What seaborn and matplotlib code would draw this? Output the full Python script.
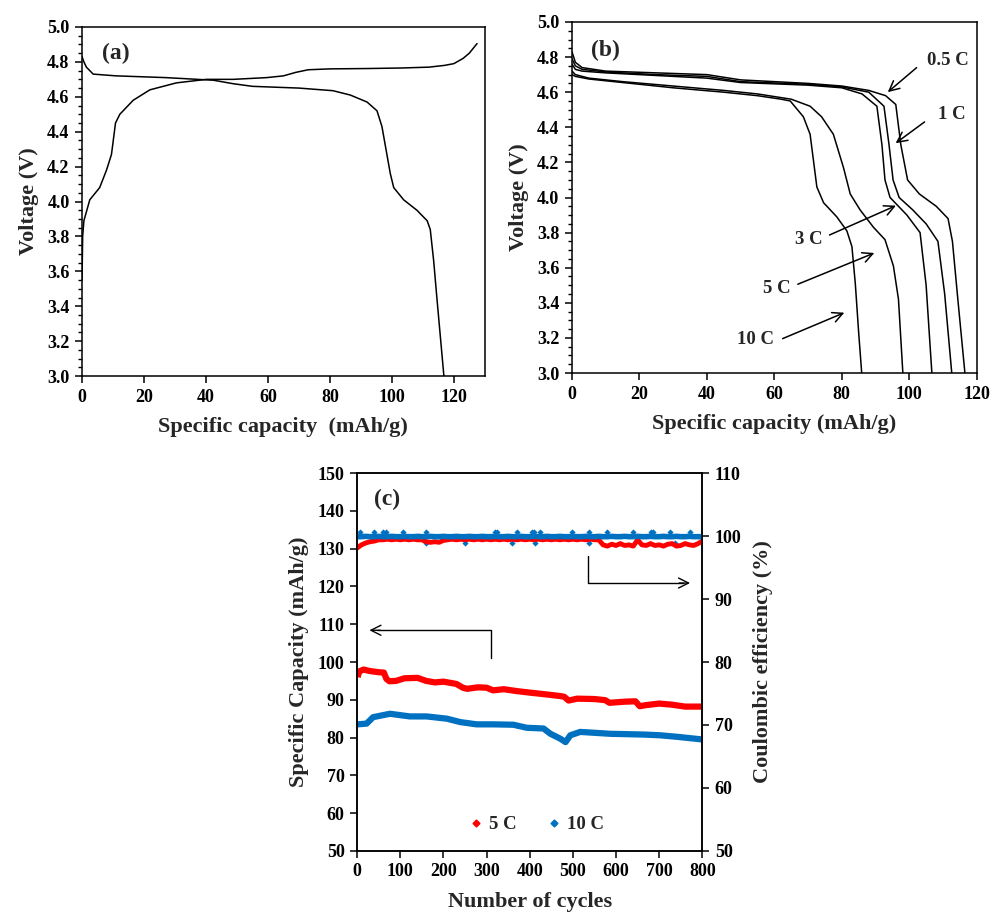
import matplotlib
matplotlib.use("Agg")
import matplotlib.pyplot as plt
from matplotlib.ticker import MultipleLocator
import seaborn as sns

# ---- (a) charge / discharge curve ----
charge_cap = [0, 0.2, 0.6, 2.5, 5.7, 7.9, 9.5, 10.3, 10.8, 12.2, 16.5, 21.9, 30.5, 40.2, 48.8,
              59.6, 65, 69, 73, 80, 92, 103, 112, 117, 120, 123, 125, 127.5]
charge_v = [3.55, 3.8, 3.89, 4.01, 4.08, 4.18, 4.27, 4.38, 4.45, 4.50, 4.58, 4.64, 4.68, 4.70, 4.70,
            4.71, 4.72, 4.74, 4.755, 4.76, 4.762, 4.765, 4.77, 4.78, 4.79, 4.82, 4.85, 4.905]
dis_cap = [0, 0.6, 1.4, 3.6, 11, 27, 42.4, 48.8, 55, 70, 81, 86.6, 92, 95.2, 96.8, 98.4, 99.5,
           100.6, 103.8, 108.1, 111.4, 112.4, 113.5, 114.6, 116.8]
dis_v = [4.83, 4.8, 4.77, 4.73, 4.72, 4.71, 4.695, 4.675, 4.66, 4.65, 4.635, 4.61, 4.57, 4.52,
         4.43, 4.27, 4.16, 4.08, 4.01, 3.95, 3.89, 3.84, 3.66, 3.435, 3.0]

# ---- (b) rate curves ----
rate_labels = ["0.5 C", "1 C", "3 C", "5 C", "10 C"]
cap_05 = [0, 1, 3, 10, 25, 40, 50, 70, 80, 88, 93, 96, 97.5, 99.5, 103, 108, 111.5, 112.8, 114.5, 116.5]
v_05 = [4.83, 4.77, 4.74, 4.72, 4.71, 4.70, 4.67, 4.65, 4.635, 4.61, 4.58, 4.53, 4.3, 4.1, 4.02,
        3.95, 3.88, 3.75, 3.4, 3.0]
cap_1 = [0, 1, 3, 10, 25, 40, 50, 70, 80, 88, 92.5, 94, 95.2, 97, 101, 105, 108.5, 110.5, 112.6]
v_1 = [4.79, 4.75, 4.73, 4.715, 4.70, 4.69, 4.66, 4.645, 4.63, 4.6, 4.52, 4.3, 4.1, 4.0, 3.93,
       3.85, 3.75, 3.45, 3.0]
cap_3 = [0, 1, 3, 10, 25, 40, 50, 70, 80, 86, 90.4, 91.9, 92.8, 94.3, 99.3, 103.2, 105, 106.7]
v_3 = [4.76, 4.73, 4.72, 4.71, 4.695, 4.68, 4.655, 4.64, 4.625, 4.59, 4.52, 4.3, 4.1, 4.0, 3.9,
       3.8, 3.5, 3.0]
cap_5 = [0, 1, 5, 15, 30, 45, 55, 65, 70.6, 74, 77.5, 80.5, 82.5, 85.4, 89.4, 92.8, 95.3, 96.8, 98.1]
v_5 = [4.72, 4.70, 4.68, 4.66, 4.635, 4.61, 4.59, 4.56, 4.52, 4.46, 4.36, 4.17, 4.02, 3.93, 3.83,
       3.76, 3.61, 3.42, 3.0]
cap_10 = [0, 1, 5, 15, 30, 45, 55, 62, 64.7, 68.6, 70.6, 71.6, 72.6, 74.6, 78.5, 81.5, 83, 84, 85, 85.9]
v_10 = [4.70, 4.69, 4.675, 4.655, 4.625, 4.60, 4.58, 4.56, 4.55, 4.46, 4.36, 4.21, 4.06, 3.97,
        3.89, 3.81, 3.72, 3.51, 3.23, 3.0]

# ---- (c) cycling ----
cyc_5c = [1, 5, 15, 30, 50, 62, 68, 75, 90, 110, 140, 160, 180, 200, 230, 245, 255, 280, 300, 315,
          340, 370, 400, 440, 470, 480, 490, 510, 550, 575, 585, 620, 645, 655, 670, 700, 730, 760, 800]
cap_5c = [96.0, 97.5, 98.0, 97.6, 97.3, 97.2, 95.5, 94.9, 95.0, 95.7, 95.8, 95.0, 94.6, 94.8, 94.2,
          93.2, 92.9, 93.3, 93.2, 92.5, 92.8, 92.3, 91.9, 91.4, 91.0, 90.8, 89.8, 90.3, 90.2, 89.9,
          89.2, 89.5, 89.6, 88.3, 88.6, 89.0, 88.7, 88.2, 88.2]
cyc_10c = [1, 22, 37, 76, 122, 161, 208, 239, 277, 316, 362, 393, 432, 448, 471, 483, 494, 517,
           587, 665, 703, 742, 800]
cap_10c = [83.5, 83.7, 85.4, 86.3, 85.6, 85.6, 85.0, 84.1, 83.5, 83.5, 83.4, 82.6, 82.4, 81.0,
           79.7, 78.8, 80.6, 81.5, 81.0, 80.8, 80.6, 80.2, 79.5]

ce_cyc = list(range(0, 810, 10))
ce_5c = [98.1, 98.6, 98.9, 99.1, 99.2, 99.4, 99.4, 99.5, 99.4, 99.5, 99.4, 99.5, 99.4, 99.5, 99.4,
         99.4, 99.1, 99.0, 99.1, 99.0, 99.3, 99.4, 99.5, 99.4, 99.5, 99.4, 99.5, 99.4, 99.5, 99.4,
         99.5, 99.4, 99.5, 99.4, 99.5, 99.4, 99.5, 99.4, 99.5, 99.4, 99.5, 99.4, 99.5, 99.4, 99.5,
         99.4, 99.5, 99.4, 99.5, 99.4, 99.5, 99.4, 99.5, 99.4, 99.5, 99.4, 99.4, 98.6, 98.4, 98.7,
         98.5, 98.8, 98.5, 98.6, 98.4, 99.4, 98.6, 98.5, 98.8, 98.5, 98.6, 98.4, 98.7, 98.8, 98.4,
         98.5, 98.8, 98.6, 98.5, 98.8, 99.2]
ce_10c = [99.9, 99.9, 99.95, 99.9, 99.9, 99.95, 99.9, 99.9, 99.95, 99.9, 99.9, 99.95, 99.9, 99.9,
          99.95, 99.9, 99.9, 99.95, 99.9, 99.9, 99.95, 99.9, 99.9, 99.95, 99.9, 99.9, 99.95, 99.9,
          99.9, 99.95, 99.9, 99.9, 99.95, 99.9, 99.9, 99.95, 99.9, 99.9, 99.95, 99.9, 99.9, 99.95,
          99.9, 99.9, 99.95, 99.9, 99.9, 99.95, 99.9, 99.9, 99.95, 99.9, 99.9, 99.95, 99.9, 99.9,
          99.95, 99.9, 99.9, 99.95, 99.9, 99.9, 99.95, 99.9, 99.9, 99.95, 99.9, 99.9, 99.95, 99.9,
          99.9, 99.95, 99.9, 99.9, 99.95, 99.9, 99.9, 99.95, 99.9, 99.9, 99.9]
out_hi_cyc = [7, 38, 61, 67, 107, 160, 320, 325, 370, 405, 411, 423, 498, 537, 579, 640, 680, 686, 726, 772]
out_hi_ce = [100.7] * len(out_hi_cyc)
out_lo_cyc = [160, 250, 359, 413, 537, 737]
out_lo_ce = [98.9, 98.9, 98.9, 98.9, 98.9, 98.9]

RED = "#ff0000"
BLUE = "#0070c0"

sns.set_style("ticks")
plt.rcParams["font.family"] = ["Liberation Serif", "DejaVu Serif"]
plt.rcParams["font.weight"] = "bold"
plt.rcParams["axes.labelweight"] = "bold"
plt.rcParams["axes.linewidth"] = 1.1
plt.rcParams["axes.edgecolor"] = "black"
plt.rcParams["xtick.color"] = "black"
plt.rcParams["ytick.color"] = "black"

TICK_FS = 13
LABEL_FS = 16

fig = plt.figure(figsize=(9.92, 9.15), dpi=100)


def style_axes(ax):
    ax.tick_params(which="major", direction="out", length=5, width=1.1, labelsize=TICK_FS, pad=4)
    ax.tick_params(which="minor", direction="out", length=3, width=1)
    for s in ax.spines.values():
        s.set_visible(True)
        s.set_color("black")


# ---- panel (a) ----
ax_a = fig.add_axes([0.0827, 0.589, 0.406, 0.3815])
sns.lineplot(x=charge_cap, y=charge_v, ax=ax_a, color="black", lw=1.1, sort=False, estimator=None)
sns.lineplot(x=dis_cap, y=dis_v, ax=ax_a, color="black", lw=1.1, sort=False, estimator=None)
ax_a.set_xlim(0, 130)
ax_a.set_ylim(3.0, 5.0)
ax_a.xaxis.set_major_locator(MultipleLocator(20))
ax_a.yaxis.set_major_locator(MultipleLocator(0.2))
ax_a.yaxis.set_minor_locator(MultipleLocator(0.05))
ax_a.yaxis.set_major_formatter(plt.FormatStrFormatter("%.1f"))
ax_a.set_xlabel("Specific capacity  (mAh/g)", fontsize=LABEL_FS, labelpad=8)
ax_a.set_ylabel("Voltage (V)", fontsize=LABEL_FS, labelpad=6)
ax_a.text(11, 4.85, "(a)", fontsize=17, fontweight="bold", ha="center", va="center")
style_axes(ax_a)

# ---- panel (b) ----
ax_b = fig.add_axes([0.5766, 0.5923, 0.408, 0.3837])
curves = [(cap_05, v_05), (cap_1, v_1), (cap_3, v_3), (cap_5, v_5), (cap_10, v_10)]
for (cx, cy) in curves:
    sns.lineplot(x=cx, y=cy, ax=ax_b, color="black", lw=1.1, sort=False, estimator=None)
ax_b.set_xlim(0, 120)
ax_b.set_ylim(3.0, 5.0)
ax_b.xaxis.set_major_locator(MultipleLocator(20))
ax_b.yaxis.set_major_locator(MultipleLocator(0.2))
ax_b.yaxis.set_minor_locator(MultipleLocator(0.05))
ax_b.yaxis.set_major_formatter(plt.FormatStrFormatter("%.1f"))
ax_b.set_xlabel("Specific capacity (mAh/g)", fontsize=LABEL_FS, labelpad=8)
ax_b.set_ylabel("Voltage (V)", fontsize=LABEL_FS, labelpad=6)
ax_b.text(10, 4.84, "(b)", fontsize=17, fontweight="bold", ha="center", va="center")

# arrows: (label, text pos, arrow start, arrow tip)
arrow_specs = [
    ("0.5 C", (111.4, 4.78), (102.8, 4.75), (93.0, 4.59)),
    ("1 C", (112.6, 4.47), (105.2, 4.44), (95.3, 4.30)),
    ("3 C", (70.3, 3.76), (75.6, 3.78), (96.8, 3.96)),
    ("5 C", (60.8, 3.48), (66.2, 3.50), (90.4, 3.69)),
    ("10 C", (54.5, 3.19), (61.7, 3.19), (81.5, 3.35)),
]
for lab, tpos, start, tip in arrow_specs:
    ax_b.text(tpos[0], tpos[1], lab, fontsize=13.5, fontweight="bold", ha="center", va="center")
    ax_b.annotate("", xy=tip, xytext=start,
                  arrowprops=dict(arrowstyle="->", color="black", lw=1.1, mutation_scale=18))
style_axes(ax_b)

# ---- panel (c) ----
ax_c = fig.add_axes([0.36, 0.07, 0.348, 0.413])
ax_r = ax_c.twinx()

sns.lineplot(x=cyc_5c, y=cap_5c, ax=ax_c, color=RED, lw=4.5, estimator=None, solid_capstyle="butt")
sns.lineplot(x=cyc_10c, y=cap_10c, ax=ax_c, color=BLUE, lw=4.5, estimator=None, solid_capstyle="butt")

sns.lineplot(x=ce_cyc, y=ce_5c, ax=ax_r, color=RED, lw=3.5, estimator=None)
sns.lineplot(x=ce_cyc, y=ce_10c, ax=ax_r, color=BLUE, lw=4.0, estimator=None)
sns.scatterplot(x=out_hi_cyc, y=out_hi_ce, ax=ax_r, color=BLUE, s=10, marker="D", linewidth=0)
sns.scatterplot(x=out_lo_cyc, y=out_lo_ce, ax=ax_r, color=BLUE, s=10, marker="D", linewidth=0)

ax_c.set_xlim(0, 800)
ax_c.set_ylim(50, 150)
ax_r.set_ylim(50, 110)
ax_c.xaxis.set_major_locator(MultipleLocator(100))
ax_c.yaxis.set_major_locator(MultipleLocator(10))
ax_r.yaxis.set_major_locator(MultipleLocator(10))
ax_c.set_xlabel("Number of cycles", fontsize=LABEL_FS, labelpad=8)
ax_c.set_ylabel("Specific Capacity (mAh/g)", fontsize=LABEL_FS, labelpad=6)
ax_r.set_ylabel("Coulombic efficiency (%)", fontsize=LABEL_FS, labelpad=8)
ax_c.text(70, 143, "(c)", fontsize=17, fontweight="bold", ha="center", va="center")

# bent arrows pointing to the relevant axis
ax_c.plot([310, 310, 45], [101, 108.4, 108.4], color="black", lw=1.0)
ax_c.annotate("", xy=(22, 108.4), xytext=(60, 108.4),
              arrowprops=dict(arrowstyle="->", color="black", lw=1.0, mutation_scale=18))
ax_c.plot([534, 534, 755], [128, 120.9, 120.9], color="black", lw=1.0)
ax_c.annotate("", xy=(778, 120.9), xytext=(740, 120.9),
              arrowprops=dict(arrowstyle="->", color="black", lw=1.0, mutation_scale=18))

# legend
h1 = plt.Line2D([], [], color=RED, marker="D", markersize=3.5, ls="none")
h2 = plt.Line2D([], [], color=BLUE, marker="D", markersize=3.5, ls="none")
ax_c.legend([h1, h2], ["5 C", "10 C"], loc="center", bbox_to_anchor=(0.52, 0.069),
            ncol=2, frameon=False, handlelength=0.7, handletextpad=0.35,
            columnspacing=1.6, prop={"weight": "bold", "size": 13.5})

style_axes(ax_c)
style_axes(ax_r)

fig.savefig("out.png", dpi=100)
